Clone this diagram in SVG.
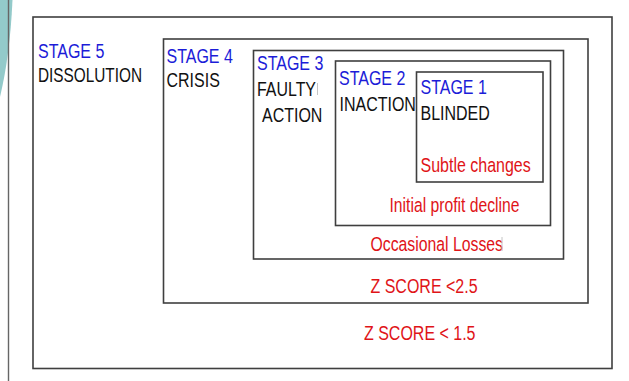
<svg xmlns="http://www.w3.org/2000/svg" width="629" height="381" viewBox="0 0 629 381">
<style>
.box{fill:none;stroke:#3f3f3f;stroke-width:1.6}
.t{font-family:"Liberation Sans",Arial,sans-serif;font-size:16px}
.blue{fill:#1c1cd8}
.blk{fill:#111}
.red{fill:#e01418}
.art{stroke:#c4c4c4;stroke-width:1}
</style>
<rect width="629" height="381" fill="#fff"/>
<g id="decoration">
<path d="M0,0 L12.5,0 Q10,55 0,97 Z" fill="#93caca"/>
<line x1="8.5" y1="0" x2="8.5" y2="381" stroke="#666" stroke-width="1.4"/>
</g>
<g id="stage5">
<rect class="box" x="33" y="17" width="579" height="351.5"/>
<text class="t blue" transform="translate(38,58) scale(1,1.28)">STAGE 5</text>
<text class="t blk" transform="translate(38,82) scale(1,1.28)" textLength="104" lengthAdjust="spacingAndGlyphs">DISSOLUTION</text>
<text class="t red" transform="translate(364,339.5) scale(1,1.28)">Z SCORE &lt; 1.5</text>
</g>
<g id="stage4">
<rect class="box" x="163.5" y="39" width="424.5" height="264"/>
<text class="t blue" transform="translate(166.5,62.5) scale(1,1.28)">STAGE 4</text>
<text class="t blk" transform="translate(166.5,86.5) scale(1,1.28)">CRISIS</text>
<text class="t red" transform="translate(370.5,293) scale(1,1.28)">Z SCORE &lt;2.5</text>
</g>
<g id="stage3">
<rect class="box" x="253.5" y="50.5" width="310" height="208.5"/>
<text class="t blue" transform="translate(257,70) scale(1,1.28)">STAGE 3</text>
<text class="t blk" transform="translate(257,95.5) scale(1,1.28)" textLength="59" lengthAdjust="spacingAndGlyphs">FAULTY</text>
<line class="art" x1="317.5" y1="83" x2="317.5" y2="95"/>
<text class="t blk" transform="translate(262,121.5) scale(1,1.28)">ACTION</text>
<text class="t red" transform="translate(370.5,251.3) scale(1,1.28)" textLength="132.5" lengthAdjust="spacingAndGlyphs">Occasional Losses</text>
<line class="art" x1="502" y1="237" x2="502" y2="251"/>
</g>
<g id="stage2">
<rect class="box" x="335.5" y="61" width="215" height="164.5"/>
<text class="t blue" transform="translate(339,84.5) scale(1,1.28)">STAGE 2</text>
<text class="t blk" transform="translate(339.5,110.5) scale(1,1.28)">INACTION</text>
<text class="t red" transform="translate(389.5,211.7) scale(1,1.28)" textLength="130" lengthAdjust="spacingAndGlyphs">Initial profit decline</text>
</g>
<g id="stage1">
<rect class="box" x="416.5" y="72" width="126.5" height="110"/>
<text class="t blue" transform="translate(420.5,94.3) scale(1,1.28)">STAGE 1</text>
<text class="t blk" transform="translate(420.5,120) scale(1,1.28)">BLINDED</text>
<text class="t red" transform="translate(420.5,171.7) scale(1,1.28)">Subtle changes</text>
</g>
<g id="connectors"/>
</svg>
